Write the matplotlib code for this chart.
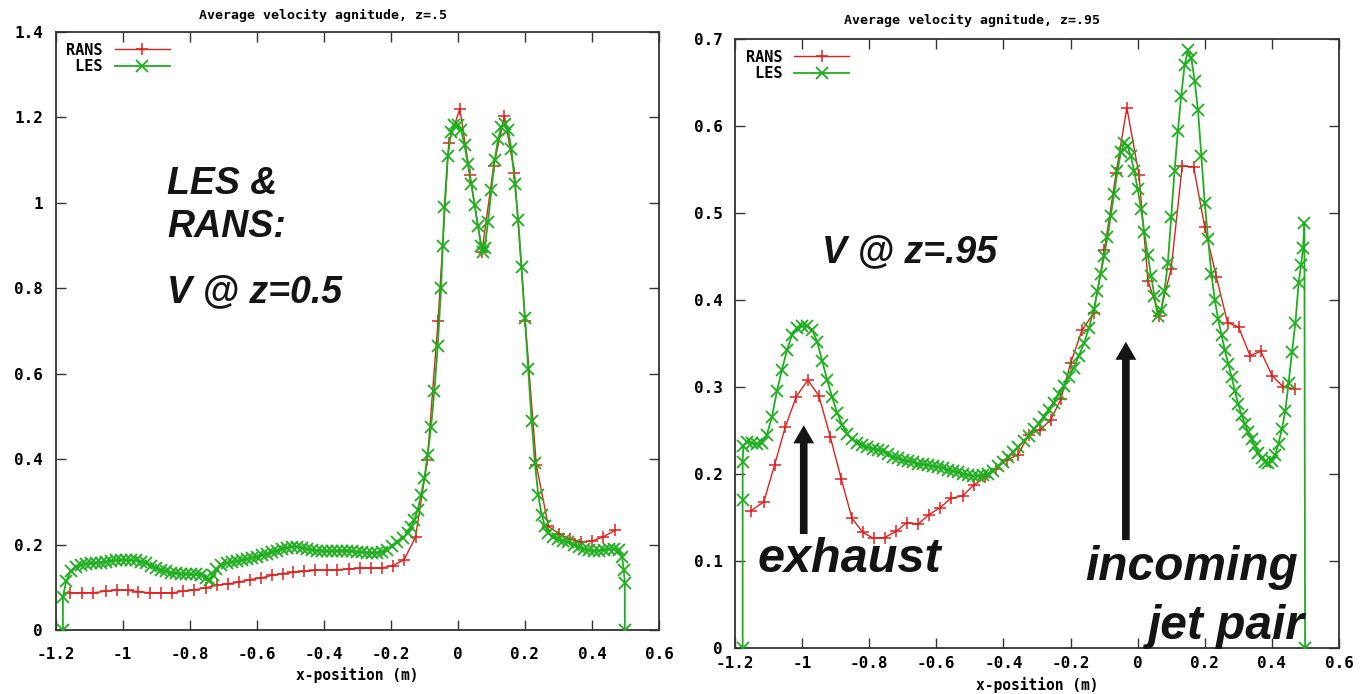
import numpy as np
import matplotlib
matplotlib.use("Agg")
import matplotlib.pyplot as plt

# ---- data ----
# z = 0.5
rans_x_05 = [-1.157, -1.122, -1.088, -1.05, -1.018, -0.983, -0.953, -0.918, -0.886, -0.852,
             -0.819, -0.786, -0.752, -0.719, -0.687, -0.654, -0.62, -0.587, -0.555, -0.522,
             -0.491, -0.458, -0.425, -0.391, -0.359, -0.325, -0.292, -0.26, -0.227, -0.192,
             -0.16, -0.126, -0.091, -0.059, -0.027, 0.006, 0.036, 0.072, 0.107, 0.139,
             0.169, 0.201, 0.234, 0.27, 0.302, 0.335, 0.367, 0.4, 0.433, 0.468]
rans_y_05 = [0.087, 0.087, 0.087, 0.091, 0.093, 0.093, 0.09, 0.087, 0.087, 0.087,
             0.091, 0.094, 0.099, 0.105, 0.108, 0.112, 0.118, 0.122, 0.128, 0.132,
             0.135, 0.137, 0.14, 0.14, 0.141, 0.143, 0.145, 0.145, 0.145, 0.151,
             0.165, 0.218, 0.398, 0.723, 1.141, 1.22, 1.066, 0.886, 1.087, 1.203,
             1.07, 0.723, 0.387, 0.243, 0.225, 0.213, 0.206, 0.208, 0.218, 0.233]

les_x_05 = [-1.178, -1.178, -1.168, -1.155, -1.14, -1.125, -1.11, -1.095, -1.08, -1.065,
            -1.05, -1.035, -1.02, -1.005, -0.99, -0.975, -0.96, -0.945, -0.93, -0.915,
            -0.9, -0.885, -0.87, -0.855, -0.84, -0.825, -0.81, -0.795, -0.78, -0.765,
            -0.75, -0.74, -0.73, -0.72, -0.705, -0.69, -0.675, -0.66, -0.645, -0.63,
            -0.615, -0.6, -0.585, -0.57, -0.555, -0.54, -0.525, -0.51, -0.495, -0.48,
            -0.465, -0.45, -0.435, -0.42, -0.405, -0.39, -0.375, -0.36, -0.345, -0.33,
            -0.315, -0.3, -0.285, -0.27, -0.255, -0.24, -0.225, -0.21, -0.195, -0.18,
            -0.165, -0.15, -0.14, -0.13, -0.12, -0.11, -0.1, -0.09, -0.08, -0.07,
            -0.06, -0.05, -0.045, -0.04, -0.03, -0.02, -0.01, 0.0, 0.01, 0.02,
            0.03, 0.04, 0.05, 0.06, 0.07, 0.075, 0.08, 0.09, 0.1, 0.11,
            0.12, 0.13, 0.14, 0.15, 0.16, 0.17, 0.18, 0.19, 0.2, 0.21,
            0.22, 0.23, 0.24, 0.25, 0.26, 0.27, 0.285, 0.3, 0.315, 0.33,
            0.345, 0.36, 0.375, 0.39, 0.405, 0.42, 0.435, 0.45, 0.465, 0.48,
            0.49, 0.495, 0.498, 0.498]
les_y_05 = [0.0, 0.077, 0.115, 0.138, 0.148, 0.152, 0.155, 0.156, 0.157, 0.158,
            0.16, 0.162, 0.163, 0.164, 0.164, 0.163, 0.163, 0.16, 0.156, 0.151,
            0.146, 0.141, 0.137, 0.134, 0.133, 0.132, 0.131, 0.13, 0.13, 0.128,
            0.122, 0.118, 0.128, 0.142, 0.152, 0.157, 0.159, 0.161, 0.164, 0.166,
            0.169, 0.172, 0.175, 0.178, 0.182, 0.186, 0.19, 0.193, 0.195, 0.195,
            0.193, 0.19, 0.188, 0.186, 0.185, 0.184, 0.184, 0.185, 0.185, 0.185,
            0.184, 0.183, 0.182, 0.181, 0.18, 0.181, 0.183, 0.188, 0.196, 0.205,
            0.215, 0.228, 0.24, 0.258, 0.28, 0.315, 0.355, 0.41, 0.475, 0.56,
            0.665, 0.8, 0.9, 0.99, 1.11, 1.165, 1.183, 1.183, 1.17, 1.135,
            1.09, 1.045, 0.995, 0.945, 0.9, 0.886, 0.895, 0.955, 1.03, 1.1,
            1.15, 1.178, 1.185, 1.17, 1.125, 1.045, 0.96, 0.85, 0.73, 0.61,
            0.49, 0.39, 0.315, 0.27, 0.243, 0.228, 0.218, 0.212, 0.208, 0.205,
            0.2, 0.195, 0.19, 0.187, 0.185, 0.186, 0.188, 0.189, 0.189, 0.188,
            0.17, 0.14, 0.11, 0.0]

# z = 0.95
rans_x_95 = [-1.151, -1.114, -1.082, -1.05, -1.017, -0.983, -0.95, -0.916, -0.883, -0.851,
             -0.819, -0.787, -0.754, -0.72, -0.688, -0.655, -0.623, -0.59, -0.556, -0.521,
             -0.489, -0.456, -0.423, -0.39, -0.357, -0.324, -0.291, -0.259, -0.229, -0.199,
             -0.166, -0.131, -0.099, -0.064, -0.032, 0.004, 0.031, 0.065, 0.1, 0.133,
             0.167, 0.2, 0.235, 0.268, 0.301, 0.335, 0.367, 0.401, 0.434, 0.469]
rans_y_95 = [0.158, 0.168, 0.21, 0.254, 0.289, 0.308, 0.29, 0.243, 0.194, 0.149,
             0.133, 0.126, 0.127, 0.134, 0.144, 0.142, 0.153, 0.161, 0.172, 0.175,
             0.187, 0.196, 0.206, 0.216, 0.222, 0.245, 0.251, 0.262, 0.286, 0.328,
             0.365, 0.385, 0.457, 0.546, 0.621, 0.544, 0.422, 0.382, 0.436, 0.554,
             0.553, 0.484, 0.426, 0.374, 0.369, 0.336, 0.341, 0.313, 0.3, 0.298]

les_x_95 = [-1.177, -1.177, -1.177, -1.175, -1.165, -1.15, -1.135, -1.12, -1.105, -1.09,
            -1.075, -1.06, -1.045, -1.03, -1.015, -1.0, -0.985, -0.97, -0.955, -0.94,
            -0.925, -0.91, -0.895, -0.88, -0.865, -0.85, -0.835, -0.82, -0.805, -0.79,
            -0.775, -0.76, -0.745, -0.73, -0.715, -0.7, -0.685, -0.67, -0.655, -0.64,
            -0.625, -0.61, -0.595, -0.58, -0.565, -0.55, -0.535, -0.52, -0.505, -0.49,
            -0.475, -0.46, -0.445, -0.43, -0.415, -0.4, -0.385, -0.37, -0.355, -0.34,
            -0.325, -0.31, -0.295, -0.28, -0.265, -0.25, -0.235, -0.22, -0.205, -0.19,
            -0.175, -0.16, -0.145, -0.13, -0.12, -0.11, -0.1, -0.09, -0.08, -0.07,
            -0.06, -0.05, -0.04, -0.03, -0.02, -0.01, 0.0, 0.01, 0.02, 0.03,
            0.04, 0.05, 0.06, 0.07, 0.08, 0.09, 0.1, 0.11, 0.12, 0.13,
            0.14, 0.15, 0.16, 0.17, 0.18, 0.19, 0.2, 0.21, 0.22, 0.23,
            0.24, 0.25, 0.26, 0.27, 0.28, 0.29, 0.3, 0.31, 0.32, 0.33,
            0.34, 0.35, 0.36, 0.37, 0.38, 0.39, 0.4, 0.41, 0.42, 0.43,
            0.44, 0.45, 0.46, 0.47, 0.48, 0.487, 0.493, 0.497, 0.499]
les_y_95 = [0.0, 0.17, 0.214, 0.232, 0.237, 0.236, 0.234, 0.236, 0.245, 0.265,
            0.295, 0.32, 0.342, 0.36, 0.368, 0.37, 0.37, 0.366, 0.352, 0.33,
            0.308, 0.288, 0.27, 0.256, 0.246, 0.24, 0.236, 0.233, 0.231, 0.229,
            0.228, 0.226, 0.223, 0.22, 0.218, 0.216, 0.215, 0.214, 0.212, 0.211,
            0.21, 0.209, 0.208, 0.207, 0.205, 0.203, 0.202, 0.2, 0.199, 0.198,
            0.198, 0.199, 0.2, 0.204, 0.209, 0.214, 0.219, 0.225, 0.231, 0.238,
            0.244, 0.252, 0.258, 0.266, 0.274, 0.282, 0.292, 0.301, 0.311, 0.322,
            0.336, 0.35, 0.368, 0.39, 0.41, 0.43, 0.45, 0.472, 0.497, 0.522,
            0.548, 0.57, 0.58, 0.577, 0.565, 0.548, 0.528, 0.505, 0.478, 0.452,
            0.428, 0.405, 0.382, 0.388, 0.41, 0.442, 0.495, 0.548, 0.594, 0.635,
            0.67, 0.687, 0.678, 0.652, 0.618, 0.565, 0.512, 0.47, 0.43, 0.4,
            0.378, 0.36, 0.342, 0.327, 0.312, 0.295, 0.28, 0.268, 0.257, 0.248,
            0.24, 0.232, 0.224, 0.218, 0.214, 0.213, 0.215, 0.222, 0.235, 0.252,
            0.272, 0.305, 0.34, 0.373, 0.42, 0.44, 0.46, 0.488, 0.0]

xticks = [-1.2, -1, -0.8, -0.6, -0.4, -0.2, 0, 0.2, 0.4, 0.6]
xtick_labels = ["-1.2", "-1", "-0.8", "-0.6", "-0.4", "-0.2", "0", "0.2", "0.4", "0.6"]
yticks_05 = [0, 0.2, 0.4, 0.6, 0.8, 1.0, 1.2, 1.4]
ytick_labels_05 = ["0", "0.2", "0.4", "0.6", "0.8", "1", "1.2", "1.4"]
yticks_95 = [0, 0.1, 0.2, 0.3, 0.4, 0.5, 0.6, 0.7]
ytick_labels_95 = ["0", "0.1", "0.2", "0.3", "0.4", "0.5", "0.6", "0.7"]

red = "#e0201c"
green = "#1cb01c"
mono = {"family": "DejaVu Sans Mono", "weight": "bold"}
big = {"family": "Liberation Sans", "weight": "bold", "style": "italic", "color": "#141414"}

fig = plt.figure(figsize=(13.61, 6.94), dpi=100)
ax1 = fig.add_axes([0.0408, 0.0922, 0.4434, 0.8617])
ax2 = fig.add_axes([0.5400, 0.0663, 0.4438, 0.8775])


def style_axes(ax, yt, ytl, ymax, xpad):
    ax.set_xlim(-1.2, 0.6)
    ax.set_ylim(0, ymax)
    ax.set_xticks(xticks)
    ax.set_xticklabels(xtick_labels, fontdict=mono, fontsize=11.5)
    ax.set_yticks(yt)
    ax.set_yticklabels(ytl, fontdict=mono, fontsize=11.5)
    ax.tick_params(direction="in", length=7, width=1.0, top=True, right=True, color="#333333")
    ax.tick_params(axis="x", pad=xpad)
    ax.tick_params(axis="y", pad=9)
    for s in ax.spines.values():
        s.set_linewidth(1.3)
        s.set_color("#333333")
    ax.set_xlabel("x-position (m)", fontdict=mono, fontsize=10.5, labelpad=4)


for ax, rx, ry, lx, ly in [(ax1, rans_x_05, rans_y_05, les_x_05, les_y_05),
                           (ax2, rans_x_95, rans_y_95, les_x_95, les_y_95)]:
    ax.plot(rx, ry, color=red, lw=1.0, marker="+", ms=9, mew=1.1, label="RANS", zorder=2)
    ax.plot(lx, ly, color=green, lw=1.3, marker="x", ms=8.5, mew=1.3, label=" LES", zorder=3)
    leg = ax.legend(loc="upper left", frameon=False, markerfirst=False,
                    prop={"family": "DejaVu Sans Mono", "weight": "bold", "size": 11},
                    handlelength=3.6, labelspacing=0.1, borderaxespad=0.3, handletextpad=0.8)

style_axes(ax1, yticks_05, ytick_labels_05, 1.4, 12)
style_axes(ax2, yticks_95, ytick_labels_95, 0.7, 6)

fig.text(0.237, 0.978, "Average velocity agnitude, z=.5", ha="center", va="center",
         fontdict=mono, fontsize=9.5)
fig.text(0.714, 0.971, "Average velocity agnitude, z=.95", ha="center", va="center",
         fontdict=mono, fontsize=9.5)

# annotations, left panel
ax1.text(-0.867, 1.02, "LES &", fontsize=27, va="baseline", **big)
ax1.text(-0.867, 0.921, "RANS:", fontsize=27, va="baseline", **big)
ax1.text(-0.867, 0.767, "V @ z=0.5", fontsize=27, va="baseline", **big)

# annotations, right panel
ax2.text(-0.941, 0.444, "V @ z=.95", fontsize=27, va="baseline", **big)
ax2.text(-1.134, 0.087, "exhaust", fontsize=35, va="baseline", **big)
ax2.text(-0.157, 0.078, "incoming", fontsize=34.5, va="baseline", **big)
ax2.text(0.496, 0.010, "jet pair", fontsize=34.5, va="baseline", ha="right", **big)
arrow = dict(arrowstyle="simple,head_length=1.3,head_width=1.5,tail_width=0.55",
             color="#141414", lw=0, shrinkA=0, shrinkB=0)
ax2.annotate("", xy=(-0.995, 0.256), xytext=(-0.995, 0.131), arrowprops=arrow)
ax2.annotate("", xy=(-0.035, 0.352), xytext=(-0.035, 0.124), arrowprops=arrow)

fig.savefig("out.png", dpi=100)
